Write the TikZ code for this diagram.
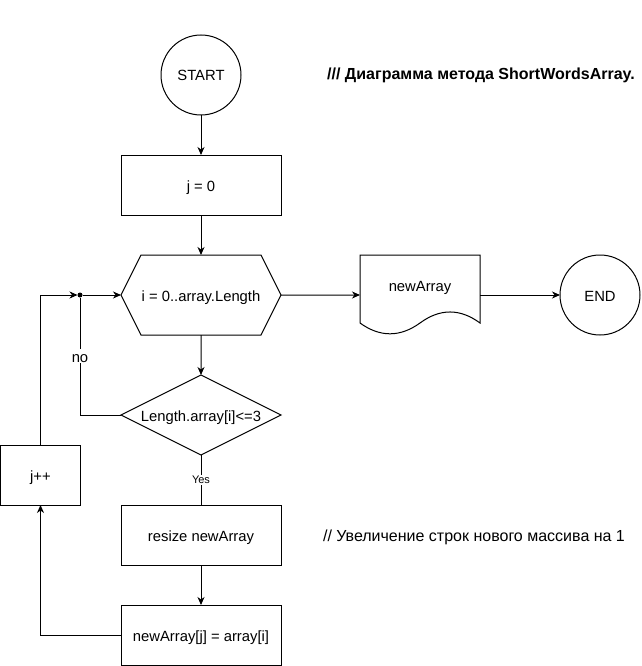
\documentclass[tikz,border=0pt]{standalone}
\usepackage{fontspec}
\setmainfont{Liberation Sans}
\usetikzlibrary{arrows.meta,calc,positioning,shapes.geometric,shapes.symbols}

\begin{document}
\begin{tikzpicture}[
    x=1pt,y=-1pt,
    node distance=40pt and 80pt,
    every node/.style={font=\fontsize{14.8}{17}\selectfont,outer sep=0},
    line width=1pt,
    >={Stealth[length=8pt,width=7pt,inset=2.5pt]},
    txt/.style={text height=12pt,text depth=0pt},
    term/.style={draw,circle,minimum size=80pt,inner sep=0,txt},
    box/.style={draw,minimum width=160pt,minimum height=60pt,inner sep=0,txt},
    loopbox/.style={draw,signal,signal to=east and west,signal pointer angle=126.87,
      minimum width=160pt,minimum height=80pt,inner sep=0,txt},
    decision/.style={draw,diamond,aspect=2,minimum width=160pt,minimum height=80pt,inner sep=0,txt},
    docbox/.style={minimum width=120pt,minimum height=80pt,inner sep=0},
    comment/.style={font=\fontsize{16}{19}\selectfont},
    lbl/.style={fill=white,inner sep=1pt},
  ]
  \useasboundingbox (0,0) rectangle (641,666);
  %
  \node (start) [term] at (201,75) {START};
  \node (jzero) [box,below=of start] {j = 0};
  \node (loop) [loopbox,below=of jzero] {i = 0..array.Length};
  \node (cond) [decision,below=of loop] {\makebox[0pt]{Length.array[i]<=3}};
  \node (resize) [box,below=50pt of cond] {resize newArray};
  \node (setel) [box,below=of resize] {newArray[j] = array[i]};
  \node (jinc) [box,minimum width=80pt] at (40.5,475) {j++};
  \node (jn) [circle,fill,inner sep=0,minimum size=5pt] at (80,295) {};
  %
  \node (doc) [docbox,right=79pt of loop,label={[txt,yshift=10pt]center:newArray}] {};
  \draw (doc.north west) -- (doc.north east) -- ($(doc.south east)+(0,-12)$)
    .. controls ($(doc.south east)+(-20,-26.7)$) and ($(doc.south east)+(-40,-26.7)$) .. ($(doc.south)+(0,-12)$)
    .. controls ($(doc.south)+(-20,2.4)$) and ($(doc.south)+(-40,2.4)$) .. ($(doc.south west)+(0,-12)$)
    -- cycle;
  \node (stop) [term,right=of doc] {END};
  %
  \node (title) [comment] at (481,75) {\textbf{/// Диаграмма метода ShortWordsArray.}};
  \node (note) [comment] at (474,537) {// Увеличение строк нового массива на 1};
  %
  \draw[->] (start) -- (jzero);
  \draw[->] (jzero) -- (loop);
  \draw[->] (loop) -- (cond);
  \draw (cond) -- (resize) node[midway,lbl,font=\fontsize{11}{13}\selectfont] {Yes};
  \draw[->] (resize) -- (setel);
  \draw[->] (loop) -- (doc);
  \draw[->] (doc) -- (stop);
  %
  \draw[->] (setel.west) -| (jinc.south);
  \draw[->] (jinc.north) |- (jn.west);
  \draw (cond.west) -| (jn.south) node[pos=0.75,lbl,txt] {no};
  \draw[->] (jn.east) -- (loop.west);
\end{tikzpicture}
\end{document}
